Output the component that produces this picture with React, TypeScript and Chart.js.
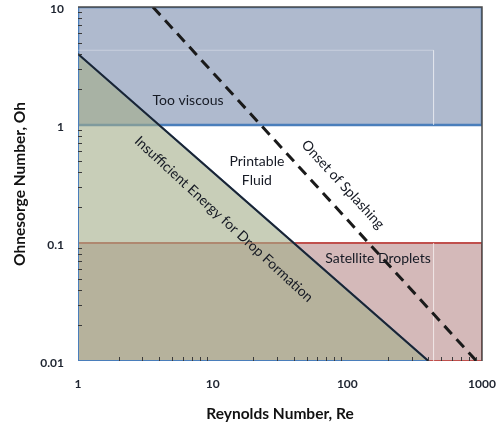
import React, { useEffect, useRef } from "react";
import { Chart, registerables } from "chart.js";

Chart.register(...registerables);

// ---- data ----
const reRange = [1, 1000];
const ohRange = [0.01, 10];
const tooViscousOh = [1, 10];
const satelliteOh = [0.01, 0.1];
const energyRe = [1, 400];
const energyOh = [4, 0.01];
const splashRe = [3.6, 910];
const splashOh = [10, 0.01];
const ghostRe = 437;
const ghostOh = 4.3;

const xTicks = [1, 10, 100, 1000];
const xTickLabels = ["1", "10", "100", "1000"];
const yTicks = [0.01, 0.1, 1, 10];
const yTickLabels = ["0.01", "0.1", "1", "10"];
const minorMult = [2, 3, 4, 5, 6, 7, 8, 9];

const xTitle = "Reynolds Number, Re";
const yTitle = "Ohnesorge Number, Oh";

// region labels: [text lines, Re, Oh, angle deg]
const labels: { lines: string[]; re: number; oh: number; angle: number }[] = [
  { lines: ["Too viscous"], re: 6.56, oh: 1.62, angle: 0 },
  { lines: ["Printable", "Fluid"], re: 21.3, oh: 0.405, angle: 0 },
  { lines: ["Satellite Droplets"], re: 169, oh: 0.0734, angle: 0 },
  { lines: ["Insufficient Energy for Drop Formation"], re: 12.1, oh: 0.159, angle: 42.7 },
  { lines: ["Onset of Splashing"], re: 92.7, oh: 0.313, angle: 47.4 },
];

const FONT = "Lato, 'Open Sans', sans-serif";

const decorPlugin = {
  id: "decor",
  afterDatasetsDraw(chart: any) {
    const { ctx, chartArea: ca, scales } = chart;
    const xs = scales.x;
    const ys = scales.y;
    ctx.save();
    // frame top & right
    ctx.strokeStyle = "#4a4a4a";
    ctx.lineWidth = 1.5;
    ctx.beginPath();
    ctx.moveTo(ca.left, ca.top);
    ctx.lineTo(ca.right, ca.top);
    ctx.lineTo(ca.right, ca.bottom);
    ctx.stroke();
    // minor ticks
    ctx.strokeStyle = "#3a3a3a";
    ctx.lineWidth = 1;
    for (let d = 0; d < 3; d++) {
      for (const m of minorMult) {
        const xv = xTicks[d] * m;
        const px = Math.round(xs.getPixelForValue(xv)) + 0.5;
        ctx.beginPath();
        ctx.moveTo(px, ca.bottom);
        ctx.lineTo(px, ca.bottom - 4);
        ctx.stroke();
        const yv = yTicks[d] * m;
        const py = Math.round(ys.getPixelForValue(yv)) + 0.5;
        ctx.beginPath();
        ctx.moveTo(ca.left, py);
        ctx.lineTo(ca.left + 4, py);
        ctx.stroke();
      }
    }
    // region labels
    ctx.fillStyle = "#161a24";
    ctx.font = `14px ${FONT}`;
    ctx.textAlign = "center";
    ctx.textBaseline = "middle";
    for (const l of labels) {
      const px = xs.getPixelForValue(l.re);
      const py = ys.getPixelForValue(l.oh);
      ctx.save();
      ctx.translate(px, py);
      ctx.rotate((l.angle * Math.PI) / 180);
      const lh = 19;
      l.lines.forEach((t, i) => {
        ctx.fillText(t, 0, (i - (l.lines.length - 1) / 2) * lh);
      });
      ctx.restore();
    }
    // tick labels
    ctx.fillStyle = "#1e2430";
    ctx.font = `bold 12px ${FONT}`;
    ctx.textAlign = "center";
    xTicks.forEach((v, i) => {
      ctx.fillText(xTickLabels[i], xs.getPixelForValue(v), ca.bottom + 23);
    });
    ctx.textAlign = "right";
    yTicks.forEach((v, i) => {
      ctx.fillText(yTickLabels[i], ca.left - 14, ys.getPixelForValue(v) + 2);
    });
    // titles
    ctx.font = `bold 15.5px ${FONT}`;
    ctx.fillStyle = "#111";
    ctx.textAlign = "center";
    ctx.fillText(xTitle, (ca.left + ca.right) / 2, ca.bottom + 53);
    ctx.save();
    ctx.translate(20, (ca.top + ca.bottom) / 2);
    ctx.rotate(-Math.PI / 2);
    ctx.fillText(yTitle, 0, 0);
    ctx.restore();
    ctx.restore();
  },
};

function rect(x0: number, x1: number, y0: number, y1: number) {
  return [
    { x: x0, y: y0 },
    { x: x1, y: y0 },
    { x: x1, y: y1 },
    { x: x0, y: y1 },
    { x: x0, y: y0 },
  ];
}

export default function App() {
  const ref = useRef<HTMLCanvasElement>(null);
  useEffect(() => {
    document.body.style.margin = "0";
    const chart = new Chart(ref.current!, {
      type: "line",
      data: {
        datasets: [
          {
            data: rect(reRange[0], reRange[1], satelliteOh[0], satelliteOh[1]),
            borderColor: "#c0504d",
            borderWidth: 2,
            backgroundColor: "rgba(160,100,100,0.45)",
            fill: "shape",
            order: 10,
          },
          {
            data: rect(reRange[0], reRange[1], tooViscousOh[0], tooViscousOh[1]),
            borderColor: "#4a7ebb",
            borderWidth: 2.5,
            backgroundColor: "rgba(78,102,147,0.45)",
            fill: "shape",
            order: 9,
          },
          {
            data: [
              { x: energyRe[0], y: energyOh[0] },
              { x: energyRe[1], y: energyOh[1] },
              { x: energyRe[0], y: energyOh[1] },
              { x: energyRe[0], y: energyOh[0] },
            ],
            borderColor: "#4a7ebb",
            borderWidth: 2,
            backgroundColor: "rgba(163,173,137,0.6)",
            fill: "shape",
            order: 8,
          },
          {
            data: [
              { x: reRange[0], y: ghostOh },
              { x: ghostRe, y: ghostOh },
              { x: ghostRe, y: tooViscousOh[0] },
            ],
            borderColor: "rgba(255,255,255,0.3)",
            borderWidth: 1,
            fill: false,
            order: 7,
          },
          {
            data: [
              { x: ghostRe, y: satelliteOh[1] },
              { x: ghostRe, y: satelliteOh[0] },
            ],
            borderColor: "rgba(255,255,255,0.3)",
            borderWidth: 1,
            fill: false,
            order: 7,
          },
          {
            data: [
              { x: energyRe[0], y: energyOh[0] },
              { x: energyRe[1], y: energyOh[1] },
            ],
            borderColor: "#1c2430",
            borderWidth: 2,
            fill: false,
            order: 2,
          },
          {
            data: [
              { x: splashRe[0], y: splashOh[0] },
              { x: splashRe[1], y: splashOh[1] },
            ],
            borderColor: "#1a1a1a",
            borderWidth: 3,
            borderDash: [11, 7],
            fill: false,
            order: 1,
          },
        ],
      },
      options: {
        animation: false,
        responsive: true,
        maintainAspectRatio: false,
        layout: { padding: { left: 78, top: 7, right: 14, bottom: 66 } },
        elements: { point: { radius: 0 }, line: { tension: 0 } },
        plugins: { legend: { display: false }, tooltip: { enabled: false } },
        scales: {
          x: { type: "logarithmic", min: reRange[0], max: reRange[1], display: false },
          y: { type: "logarithmic", min: ohRange[0], max: ohRange[1], display: false },
        },
      },
      plugins: [decorPlugin],
    });
    return () => chart.destroy();
  }, []);
  return (
    <div style={{ width: 496, height: 427, position: "relative" }}>
      <canvas ref={ref} />
    </div>
  );
}
